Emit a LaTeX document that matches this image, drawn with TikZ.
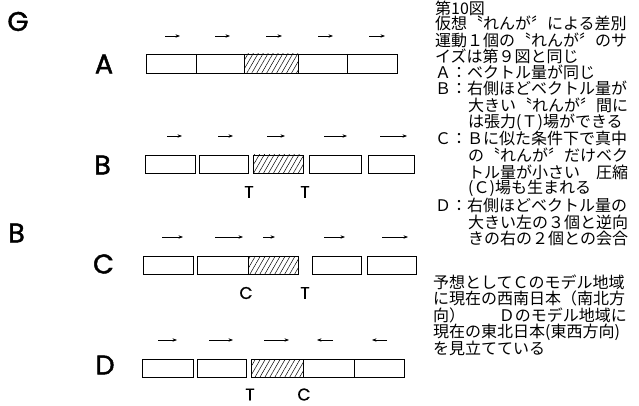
\documentclass[tikz,border=0pt]{standalone}
\usepackage{fontspec}
\setmainfont{Liberation Serif}
\newfontfamily\geo[FakeBold=1.6]{Poppins}
\newfontfamily\geol[FakeBold=0.8]{Poppins}
\newfontfamily\jp{Noto Sans CJK JP}
\usetikzlibrary{patterns.meta,arrows.meta}
\begin{document}
\begin{tikzpicture}[x=1pt,y=-1pt,
  bar/.style={draw=black,line width=0.8pt},
  hatch/.style={bar,pattern={Lines[angle=60,distance=4.3pt,line width=0.5pt]}},
  vec/.style={line width=0.6pt,-{Stealth[length=4.5pt,width=3.4pt]}},
  big/.style={inner sep=0pt,font=\geo\fontsize{27}{27}\selectfont},
  lab/.style={inner sep=0pt,font=\geol\fontsize{17}{17}\selectfont},
  jt/.style={inner sep=0pt,anchor=west,font=\jp\fontsize{16}{16}\selectfont}]
\useasboundingbox (0,0) rectangle (639,406);
% side letters
\node[big] (g) at (18,21.5) {G};
\node[big] (bb) at (16.5,233) {B};
\node[big] (la) at (104,64) {A};
\node[big] (lb) at (102.5,165) {B};
\node[big] (lc) at (103.5,264) {C};
\node[big] (ld) at (105,365) {D};
% row A
\draw[hatch] (244,54) rectangle (298,73);
\draw[bar] (146,54) rectangle (397,73);
\draw[bar] (196,54) -- (196,73) (347,54) -- (347,73);
\foreach \a/\b in {165/180,215/230,266/282,318/333,369/385}
  \draw[vec] (\a,36) -- (\b,36);
% row B
\draw[bar] (145,155) rectangle (195,173);
\draw[bar] (199,155) rectangle (248,173);
\draw[hatch] (253,155) rectangle (303,173);
\draw[bar] (309,155) rectangle (361,173);
\draw[bar] (368,155) rectangle (414,173);
\foreach \a/\b in {167/182,218/233,267/285,324/347,380/407}
  \draw[vec] (\a,136) -- (\b,136);
\node[lab] (bt1) at (249,192) {T};
\node[lab] (bt2) at (305,192) {T};
% row C
\draw[bar] (143,256) rectangle (193,274);
\draw[hatch] (248,256) rectangle (298,274);
\draw[bar] (197,256) rectangle (298,274);
\draw[bar] (312,256) rectangle (361,274);
\draw[bar] (367,256) rectangle (416,274);
\foreach \a/\b in {162/183,215/243,263/275,324/345,382/408}
  \draw[vec] (\a,237) -- (\b,237);
\node[lab] (cc) at (246,293) {C};
\node[lab] (ct) at (305,293) {T};
% row D
\draw[bar] (142,359) rectangle (193,377);
\draw[bar] (197,359) rectangle (246,377);
\draw[hatch] (251,359) rectangle (303,377);
\draw[bar] (251,359) rectangle (404,377);
\draw[bar] (354,359) -- (354,377);
\foreach \a/\b in {158/177,209/233,264/289,333/317,387/372}
  \draw[vec] (\a,340) -- (\b,340);
\node[lab] (dt) at (250,394.5) {T};
\node[lab] (dc) at (304,394.5) {C};
% caption text
\node[jt] (t1) at (435,8) {第10図};
\node[jt] (t2) at (435,23) {仮想〝れんが〞による差別};
\node[jt] (t3) at (435,40) {運動１個の〝れんが〞のサ};
\node[jt] (t4) at (435,56) {イズは第９図と同じ};
\node[jt] (t5) at (435,72) {Ａ：ベクトル量が同じ};
\node[jt] (t6) at (435,88) {Ｂ：右側ほどベクトル量が};
\node[jt] (t7) at (468,105) {大きい〝れんが〞間に};
\node[jt] (t8) at (468,122) {は張力(Ｔ)場ができる};
\node[jt] (t9) at (435,138) {Ｃ：Ｂに似た条件下で真中};
\node[jt] (t10) at (468,155) {の〝れんが〞だけベク};
\node[jt] (t11) at (468,172) {トル量が小さい　圧縮};
\node[jt] (t12) at (468,188) {(Ｃ)場も生まれる};
\node[jt] (t13) at (435,205) {Ｄ：右側ほどベクトル量の};
\node[jt] (t14) at (468,222) {大きい左の３個と逆向};
\node[jt] (t15) at (468,238) {きの右の２個との会合};
\node[jt] (t16) at (433,282) {予想としてＣのモデル地域};
\node[jt] (t17) at (433,298) {に現在の西南日本（南北方};
\node[jt] (t18) at (433,315) {向）};
\node[jt,anchor=east] (t18b) at (627,315) {Ｄのモデル地域に};
\node[jt] (t19) at (433,332) {現在の東北日本(東西方向)};
\node[jt] (t20) at (433,348) {を見立てている};
\end{tikzpicture}
\end{document}
